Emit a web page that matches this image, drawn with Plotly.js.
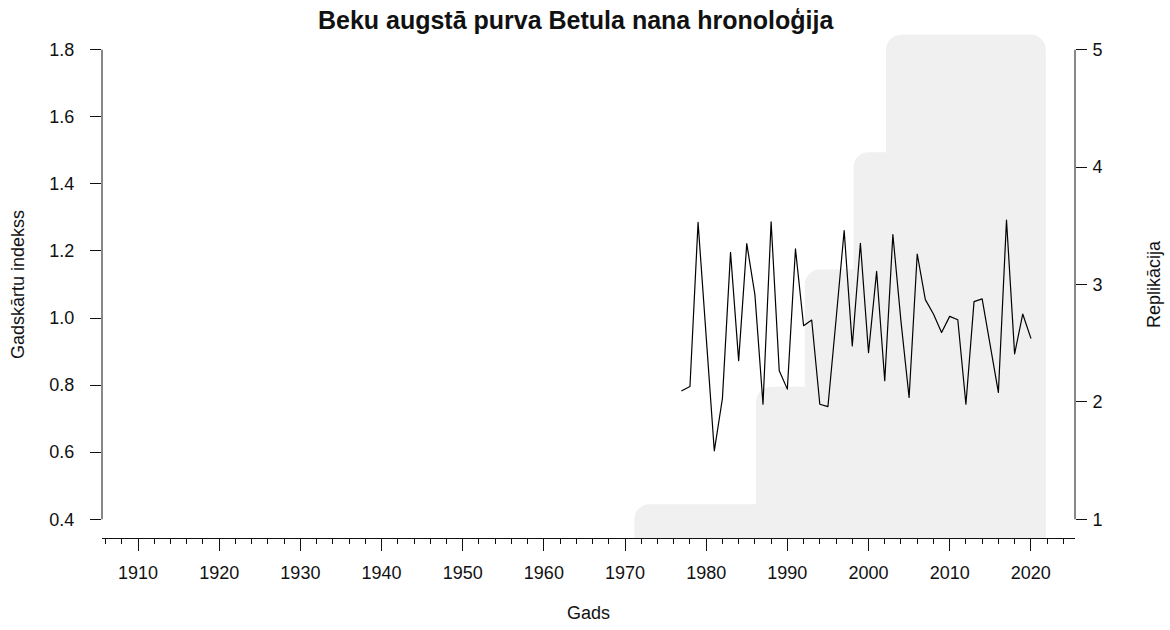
<!DOCTYPE html>
<html>
<head>
<meta charset="utf-8">
<script src="https://cdn.plot.ly/plotly-3.0.1.min.js"></script>
<style>
html,body{margin:0;padding:0;background:#fff;}
#chart{width:1170px;height:630px;}
#chart .js-line{stroke-linejoin:round;stroke-linecap:round;}
</style>
</head>
<body>
<div id="chart"></div>
<script>
// Chronology (ring-width index) by year
const years = [1977,1978,1979,1980,1981,1982,1983,1984,1985,1986,1987,1988,1989,1990,1991,1992,1993,1994,1995,1996,1997,1998,1999,2000,2001,2002,2003,2004,2005,2006,2007,2008,2009,2010,2011,2012,2013,2014,2015,2016,2017,2018,2019,2020];
const index = [0.783,0.796,1.285,0.950,0.604,0.760,1.196,0.873,1.222,1.070,0.743,1.287,0.843,0.788,1.206,0.977,0.994,0.743,0.736,0.995,1.261,0.917,1.223,0.897,1.139,0.813,1.249,0.990,0.763,1.191,1.055,1.012,0.957,1.005,0.995,0.743,1.049,1.057,0.912,0.778,1.292,0.893,1.012,0.940];

// Sample depth (replication) by year
const depthYears = [1973,1974,1975,1976,1977,1978,1979,1980,1981,1982,1983,1984,1985,1986,1987,1988,1989,1990,1991,1992,1993,1994,1995,1996,1997,1998,1999,2000,2001,2002,2003,2004,2005,2006,2007,2008,2009,2010,2011,2012,2013,2014,2015,2016,2017,2018,2019,2020];
const depth = [1,1,1,1,1,1,1,1,1,1,1,1,1,1,1,2,2,2,2,2,2,3,3,3,3,3,3,4,4,4,4,5,5,5,5,5,5,5,5,5,5,5,5,5,5,5,5,5];

// Axis ticks and limits
const xLim = [1910, 2021];
const leftTicks = [0.4, 0.6, 0.8, 1.0, 1.2, 1.4, 1.6, 1.8];
const rightTicks = [1, 2, 3, 4, 5];
const xTickStart = 1910, xMajorStep = 10, xMinorStep = 2;

const titleText = "Beku augstā purva Betula nana hronoloģija";
const xTitle = "Gads";
const yTitle = "Gadskārtu indekss";
const y2Title = "Replikācija";

function expand(lo, hi) { const d = (hi - lo) * 0.04; return [lo - d, hi + d]; }

const lMin = Math.min(...leftTicks), lMax = Math.max(...leftTicks);
const rMin = Math.min(...rightTicks), rMax = Math.max(...rightTicks);

const shadeX = [depthYears[0], ...depthYears, depthYears[depthYears.length - 1]];
const shadeY = [0, ...depth, 0];

const FONT = "Liberation Sans, Arial, sans-serif";
const INK = "#111";

// Depth shading on the primary (right-side) axis, index line on the overlaying (left-side) axis so it draws on top
const traces = [
  {
    x: shadeX, y: shadeY, yaxis: 'y', type: 'scatter', mode: 'lines',
    line: {shape: 'hv', color: '#f0f0f0', width: 30},
    fill: 'toself', fillcolor: '#f0f0f0', hoverinfo: 'skip', showlegend: false
  },
  {
    x: years, y: index, yaxis: 'y2', type: 'scatter', mode: 'lines',
    line: {color: '#000', width: 1.2}, showlegend: false
  }
];

const layout = {
  width: 1170, height: 630,
  margin: {l: 102, r: 95, t: 31, b: 92, pad: 0},
  paper_bgcolor: '#fff', plot_bgcolor: 'rgba(0,0,0,0)',
  font: {family: FONT, size: 18, color: INK},
  showlegend: false,
  title: {text: '<b>' + titleText + '</b>', font: {family: FONT, size: 25, color: INK}, x: 0.492, xanchor: 'center', y: 0.968, yanchor: 'middle'},
  xaxis: {
    range: expand(xLim[0], xLim[1]),
    tick0: xTickStart, dtick: xMajorStep, ticks: 'outside', ticklen: 12, tickwidth: 1, tickcolor: INK,
    minor: {tick0: xTickStart, dtick: xMinorStep, ticks: 'outside', ticklen: 5, tickwidth: 1, tickcolor: INK, showgrid: false},
    showline: true, linecolor: INK, linewidth: 1,
    showgrid: false, zeroline: false, ticklabelstandoff: 6,
    tickfont: {family: FONT, size: 18, color: INK},
    title: {text: xTitle, font: {family: FONT, size: 18, color: INK}, standoff: 24}
  },
  yaxis: {
    range: expand(rMin, rMax), side: 'right',
    tickvals: rightTicks, ticktext: rightTicks.map(String),
    ticks: 'outside', ticklen: 11, tickwidth: 1, tickcolor: INK,
    showline: false, showgrid: false, zeroline: false, ticklabelstandoff: 2,
    tickfont: {family: FONT, size: 18, color: INK},
    title: {text: y2Title, font: {family: FONT, size: 18, color: INK}, standoff: 45}
  },
  yaxis2: {
    range: expand(lMin, lMax), overlaying: 'y', side: 'left',
    tickvals: leftTicks, ticktext: leftTicks.map(v => v.toFixed(1)),
    ticks: 'outside', ticklen: 11, tickwidth: 1, tickcolor: INK,
    showline: false, showgrid: false, zeroline: false, ticklabelstandoff: 12,
    tickfont: {family: FONT, size: 18, color: INK},
    title: {text: yTitle, font: {family: FONT, size: 18, color: INK}, standoff: 20}
  },
  shapes: [
    {type: 'line', xref: 'paper', x0: 0, x1: 0, yref: 'y2', y0: lMin, y1: lMax, line: {color: INK, width: 1}, layer: 'above'},
    {type: 'line', xref: 'paper', x0: 1, x1: 1, yref: 'y', y0: rMin, y1: rMax, line: {color: INK, width: 1}, layer: 'above'}
  ]
};

Plotly.newPlot('chart', traces, layout, {staticPlot: true, displayModeBar: false});
</script>
</body>
</html>
